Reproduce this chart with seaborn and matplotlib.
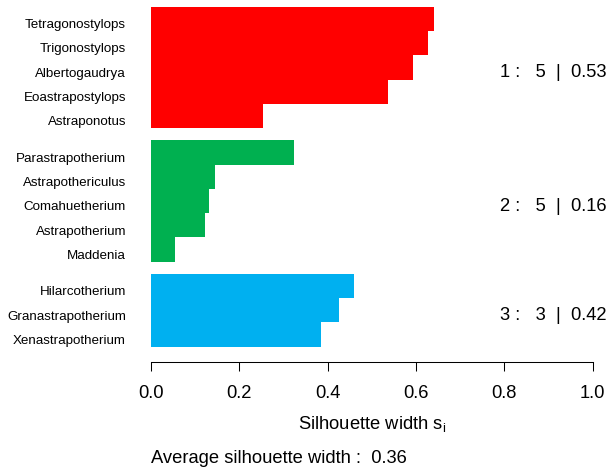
import matplotlib
matplotlib.use("Agg")
import matplotlib.pyplot as plt
from matplotlib.transforms import ScaledTranslation
import seaborn as sns
import numpy as np
import pandas as pd

# ---- data ----
names = ["Tetragonostylops", "Trigonostylops", "Albertogaudrya", "Eoastrapostylops",
         "Astraponotus",
         "Parastrapotherium", "Astrapothericulus", "Comahuetherium", "Astrapotherium",
         "Maddenia",
         "Hilarcotherium", "Granastrapotherium", "Xenastrapotherium"]
sil_width = [0.642, 0.627, 0.593, 0.538, 0.253,
             0.325, 0.146, 0.132, 0.123, 0.055,
             0.459, 0.426, 0.386]
cluster = ["1", "1", "1", "1", "1",
           "2", "2", "2", "2", "2",
           "3", "3", "3"]
cluster_colors = {"1": "#FF0000", "2": "#00B050", "3": "#00B0F0"}
xticks = [0.0, 0.2, 0.4, 0.6, 0.8, 1.0]

sns.set_theme(style="white")
plt.rcParams["font.family"] = ["Liberation Sans", "DejaVu Sans"]
plt.rcParams["mathtext.fontset"] = "custom"
plt.rcParams["mathtext.rm"] = "Liberation Sans"
plt.rcParams["mathtext.it"] = "Liberation Sans:italic"

# bar positions: one unit per row, half-unit gap between clusters
cl_idx = pd.Series(cluster).astype(int).values - 1
pos = np.arange(len(names)) + 0.5 * cl_idx
df = pd.DataFrame({"name": names, "width": sil_width, "cluster": cluster, "pos": pos})

W, H = 609, 475
fig = plt.figure(figsize=(W / 100, H / 100), dpi=100)
ax_left, ax_right, ax_top, ax_bottom = 150.7, 592.7, 6.7, 346.7
ax = fig.add_axes([ax_left / W, 1 - ax_bottom / H, (ax_right - ax_left) / W, (ax_bottom - ax_top) / H])

sns.barplot(data=df, x="width", y="pos", hue="cluster", orient="h", native_scale=True,
            palette=cluster_colors, width=1, dodge=False, saturation=1, errorbar=None,
            linewidth=0, legend=False, ax=ax)

ax.set_xlim(0, 1)
ax.set_ylim(pos.max() + 0.5, -0.5)
ax.set_xlabel("")
ax.set_ylabel("")

for s in ["left", "top", "right"]:
    ax.spines[s].set_visible(False)
ax.spines["bottom"].set_position(("outward", 11))
ax.spines["bottom"].set_color("black")
ax.spines["bottom"].set_linewidth(0.75)

ax.set_xticks(xticks)
ax.set_xticklabels([f"{t:.1f}" for t in xticks])
ax.tick_params(axis="x", length=6.3, width=0.75, direction="out", pad=10.5,
               labelsize=13.2, colors="black", bottom=True)

ax.set_yticks(pos)
ax.set_yticklabels(names)
ax.tick_params(axis="y", length=0, pad=17.8, labelsize=9.6, colors="black", left=False)
for lab in ax.get_yticklabels():
    lab.set_transform(lab.get_transform() + ScaledTranslation(0, -3.5 / 72, fig.dpi_scale_trans))

# cluster summaries
for c in ["1", "2", "3"]:
    sub = df[df["cluster"] == c]
    center = (sub["pos"].min() + sub["pos"].max()) / 2
    ax.text(1.032, center + 0.41, f"{c} :   {len(sub)}  |  {sub['width'].mean():.2f}",
            ha="right", va="baseline", fontsize=13.2, color="black", clip_on=False)

fig.text(371.7 / W, 1 - 429 / H, r"Silhouette width $\mathregular{s_i}$",
         ha="center", va="baseline", fontsize=13.2, color="black")
fig.text(ax_left / W, 1 - 462.7 / H,
         f"Average silhouette width :  {np.mean(sil_width):.2f}",
         ha="left", va="baseline", fontsize=13.2, color="black")

fig.savefig("out.png", dpi=100)
